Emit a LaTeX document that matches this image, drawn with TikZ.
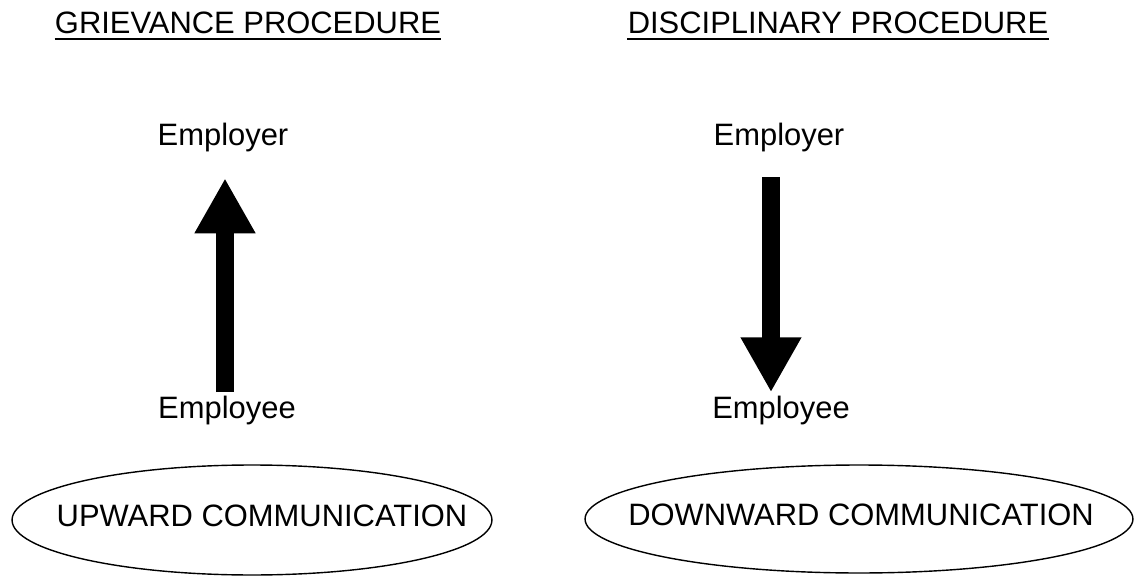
\documentclass[tikz,border=0pt]{standalone}
\usepackage{fontspec}
\setmainfont{Liberation Sans}
\usetikzlibrary{arrows.meta}
\tikzset{
	lbl/.style={inner sep=0pt,anchor=base,font=\fontsize{17.6}{21}\selectfont},
	bigarrow/.style={line width=0.36cm,-{Triangle[width=1.14cm,length=1.1cm]}},
	ring/.style={line width=0.8pt}
}
\begin{document}
\begin{tikzpicture}[x=0.02cm,y=-0.02cm]
	\useasboundingbox (0,0) rectangle (1134,578);
	%headings
	\node[lbl] (t1) at (248,33) {GRIEVANCE PROCEDURE};
	\node[lbl] (t2) at (838,33) {DISCIPLINARY PROCEDURE};
	\draw[line width=1.1pt] ([yshift=-0.12cm]t1.base west) -- ([yshift=-0.12cm]t1.base east);
	\draw[line width=1.1pt] ([yshift=-0.12cm]t2.base west) -- ([yshift=-0.12cm]t2.base east);
	
	%parties
	\node[lbl] (er1) at (223,145) {Employer};
	\node[lbl] (ee1) at (227,418) {Employee};
	\node[lbl] (er2) at (779,145) {Employer};
	\node[lbl] (ee2) at (781,418) {Employee};
	
	%arrows
	\coordinate (a1) at (225,0);
	\coordinate (a2) at (771,0);
	\draw[bigarrow,shorten <=0.06cm,shorten >=0.53cm] (ee1.north -| a1) -- (er1.south -| a1);
	\draw[bigarrow,shorten <=0.51cm,shorten >=0.06cm] (er2.south -| a2) -- (ee2.north -| a2);
	
	%communication ellipses
	\node[lbl] (c1) at (262,526) {UPWARD COMMUNICATION};
	\node[lbl] (c2) at (861,525) {DOWNWARD COMMUNICATION};
	\coordinate (o1) at (252,520);
	\coordinate (o2) at (859,519);
	\draw[ring] (o1) ellipse (4.8cm and 1.1cm);
	\draw[ring] (o2) ellipse (5.48cm and 1.08cm);
\end{tikzpicture}
\end{document}
